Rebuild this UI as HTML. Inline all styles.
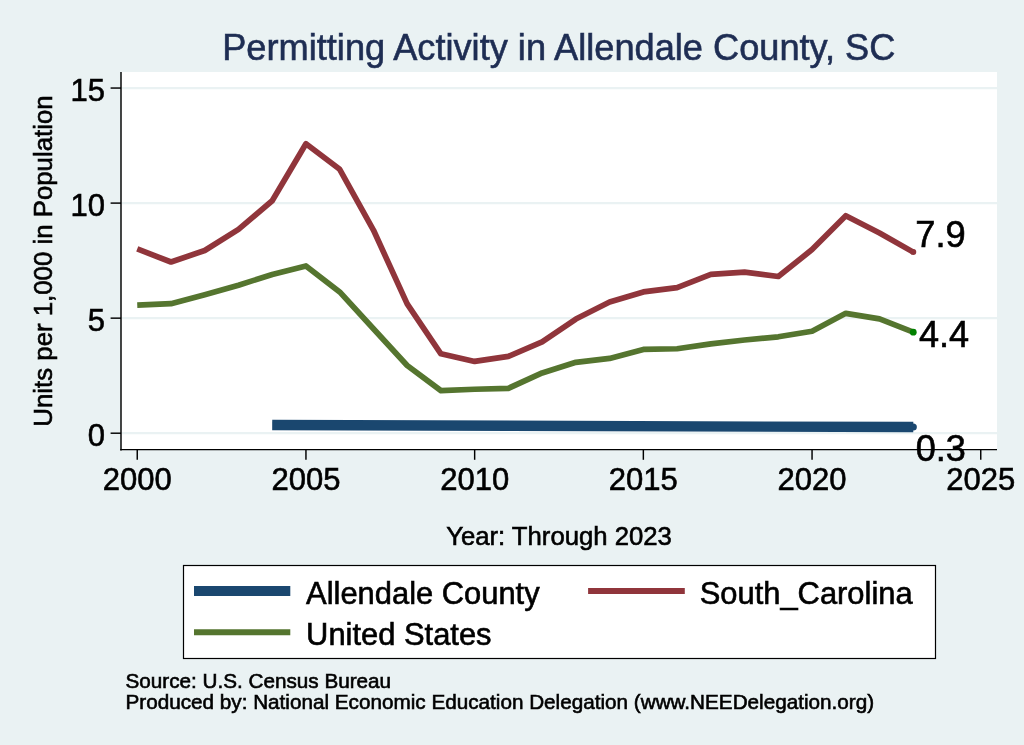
<!DOCTYPE html>
<html lang="en">
<head>
<meta charset="utf-8">
<title>Permitting Activity in Allendale County, SC</title>
<style>
html,body{margin:0;padding:0;background:#eaf2f3;}
body{width:1024px;height:745px;overflow:hidden;font-family:'Liberation Sans', Arial, Helvetica, sans-serif;}
svg text{white-space:pre;stroke:#000;stroke-width:0.6px;paint-order:stroke fill;}
svg text.t{stroke:#1e2d53;}
</style>
</head>
<body>
<svg width="1024" height="745" viewBox="0 0 1024 745" style="display:block;will-change:transform;font-family:'Liberation Sans',Arial,Helvetica,sans-serif">
<rect x="0" y="0" width="1024" height="745" fill="#eaf2f3"/>
<rect x="121" y="72" width="876" height="378" fill="#ffffff"/>
<line x1="121" x2="997" y1="433.20" y2="433.20" stroke="#eaf2f3" stroke-width="2.3"/>
<line x1="121" x2="997" y1="318.15" y2="318.15" stroke="#eaf2f3" stroke-width="2.3"/>
<line x1="121" x2="997" y1="203.10" y2="203.10" stroke="#eaf2f3" stroke-width="2.3"/>
<line x1="121" x2="997" y1="88.05" y2="88.05" stroke="#eaf2f3" stroke-width="2.3"/>
<line x1="272.21" y1="425.0" x2="913.27" y2="427.0" stroke="#1a476f" stroke-width="10.3"/>
<circle cx="913.27" cy="427.0" r="3.6" fill="#1a476f"/>
<polyline points="137.25,248.89 170.99,262.01 204.73,250.50 238.47,229.33 272.21,200.80 305.95,143.73 339.69,169.28 373.43,230.02 407.17,303.88 440.91,353.82 474.65,361.41 508.39,356.35 542.13,341.85 575.87,319.07 609.61,302.04 643.35,291.92 677.09,287.55 710.83,274.43 744.57,272.13 778.31,276.50 812.05,249.58 845.79,215.76 879.53,233.01 913.27,252.11" fill="none" stroke="#90353b" stroke-width="5.7" stroke-linejoin="round" stroke-linecap="butt"/>
<polyline points="137.25,305.03 170.99,303.65 204.73,294.68 238.47,285.25 272.21,274.43 305.95,265.92 339.69,291.92 373.43,328.73 407.17,365.55 440.91,390.63 474.65,389.25 508.39,388.33 542.13,372.91 575.87,362.33 609.61,358.42 643.35,349.44 677.09,348.75 710.83,343.92 744.57,340.01 778.31,336.79 812.05,331.27 845.79,313.32 879.53,318.84 913.27,332.19" fill="none" stroke="#55752f" stroke-width="5.7" stroke-linejoin="round" stroke-linecap="butt"/>
<circle cx="913.27" cy="252.11" r="3" fill="#90353b"/>
<circle cx="913.27" cy="332.19" r="3.4" fill="#008000"/>
<line x1="121" x2="121" y1="72" y2="450.4" stroke="#000" stroke-width="1.45"/>
<line x1="120.2" x2="997" y1="449.6" y2="449.6" stroke="#000" stroke-width="1.45"/>
<line x1="110.6" x2="121" y1="433.20" y2="433.20" stroke="#000" stroke-width="1.45"/>
<line x1="110.6" x2="121" y1="318.15" y2="318.15" stroke="#000" stroke-width="1.45"/>
<line x1="110.6" x2="121" y1="203.10" y2="203.10" stroke="#000" stroke-width="1.45"/>
<line x1="110.6" x2="121" y1="88.05" y2="88.05" stroke="#000" stroke-width="1.45"/>
<line x1="137.25" x2="137.25" y1="449.6" y2="459.8" stroke="#000" stroke-width="1.45"/>
<line x1="305.95" x2="305.95" y1="449.6" y2="459.8" stroke="#000" stroke-width="1.45"/>
<line x1="474.65" x2="474.65" y1="449.6" y2="459.8" stroke="#000" stroke-width="1.45"/>
<line x1="643.35" x2="643.35" y1="449.6" y2="459.8" stroke="#000" stroke-width="1.45"/>
<line x1="812.05" x2="812.05" y1="449.6" y2="459.8" stroke="#000" stroke-width="1.45"/>
<line x1="980.75" x2="980.75" y1="449.6" y2="459.8" stroke="#000" stroke-width="1.45"/>
<text x="105" y="446.40" font-size="31" text-anchor="end" fill="#000">0</text>
<text x="105" y="331.35" font-size="31" text-anchor="end" fill="#000">5</text>
<text x="105" y="216.30" font-size="31" text-anchor="end" fill="#000">10</text>
<text x="105" y="101.25" font-size="31" text-anchor="end" fill="#000">15</text>
<text x="137.25" y="490" font-size="31" text-anchor="middle" fill="#000">2000</text>
<text x="305.95" y="490" font-size="31" text-anchor="middle" fill="#000">2005</text>
<text x="474.65" y="490" font-size="31" text-anchor="middle" fill="#000">2010</text>
<text x="643.35" y="490" font-size="31" text-anchor="middle" fill="#000">2015</text>
<text x="812.05" y="490" font-size="31" text-anchor="middle" fill="#000">2020</text>
<text x="980.75" y="490" font-size="31" text-anchor="middle" fill="#000">2025</text>
<text x="915.3" y="247.2" font-size="36.3" fill="#000">7.9</text>
<text x="919.0" y="347.2" font-size="36.1" fill="#000">4.4</text>
<text x="915.7" y="461.2" font-size="36.1" fill="#000">0.3</text>
<text x="558.8" y="59.6" font-size="36.2" text-anchor="middle" fill="#1e2d53" class="t">Permitting Activity in Allendale County, SC</text>
<text x="559" y="545" font-size="25.7" text-anchor="middle" fill="#000">Year: Through 2023</text>
<text transform="translate(51.9,261) rotate(-90)" font-size="25.8" text-anchor="middle" fill="#000">Units per 1,000 in Population</text>
<rect x="183.5" y="565.5" width="752" height="93" fill="#ffffff" stroke="#000" stroke-width="1.2"/>
<line x1="194" x2="290.3" y1="591" y2="591" stroke="#1a476f" stroke-width="10.1"/>
<line x1="194" x2="290.3" y1="632.3" y2="632.3" stroke="#55752f" stroke-width="5.9"/>
<line x1="588.1" x2="684.8" y1="591.05" y2="591.05" stroke="#90353b" stroke-width="5.9"/>
<text x="306.1" y="603.7" font-size="30.9" fill="#000">Allendale County</text>
<text x="306.1" y="644.6" font-size="30.9" fill="#000">United States</text>
<text x="699.7" y="603.7" font-size="30.9" fill="#000">South_Carolina</text>
<text x="125.5" y="688.4" font-size="20.7" fill="#000">Source: U.S. Census Bureau</text>
<text x="125.5" y="708.8" font-size="20.7" fill="#000">Produced by: National Economic Education Delegation (www.NEEDelegation.org)</text>
</svg>
</body>
</html>
